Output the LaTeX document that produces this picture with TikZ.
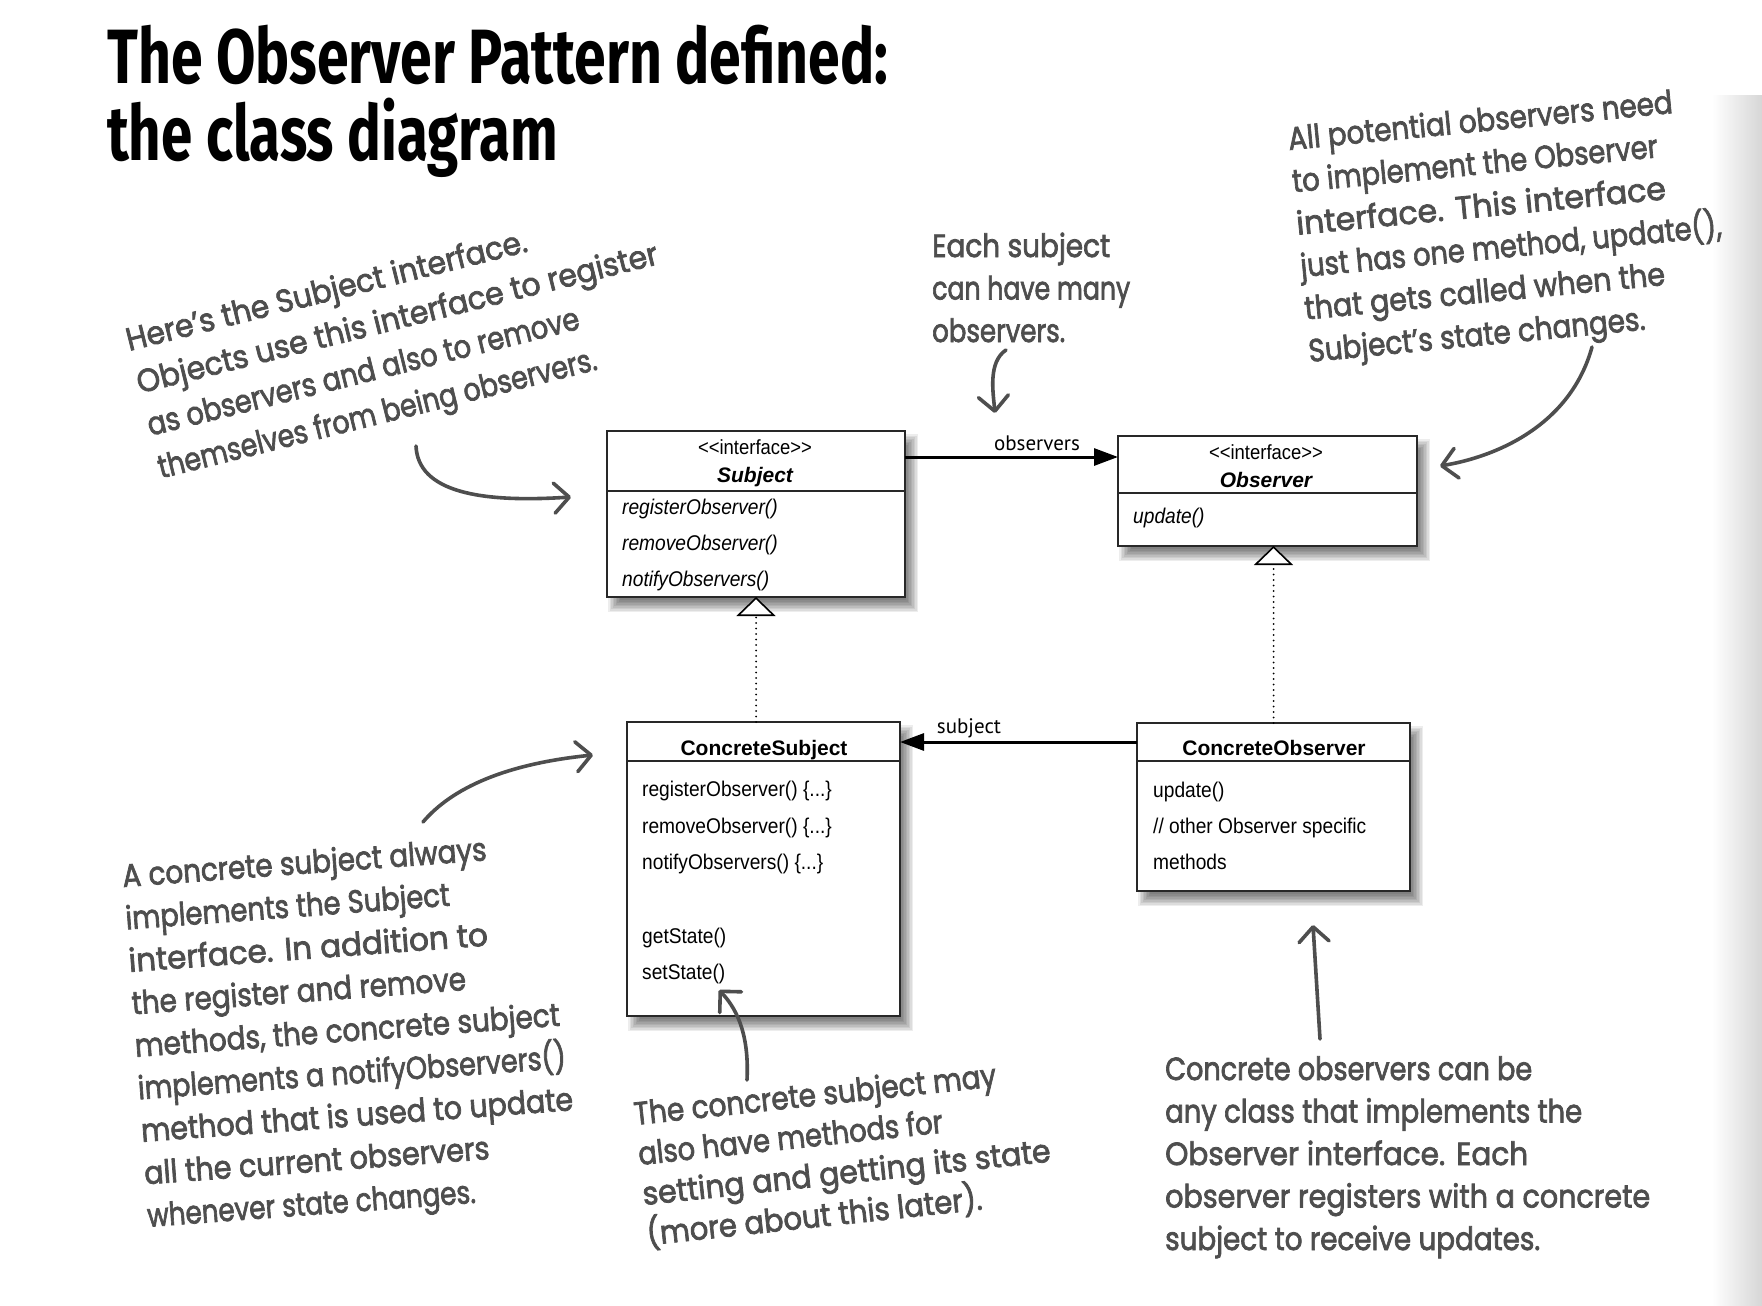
\documentclass[tikz,border=0pt]{standalone}
\usepackage{fontspec}
\setmainfont{Liberation Sans}
\newfontfamily\narrowsans{Liberation Sans}[FakeStretch=0.9]
\newfontfamily\handfont{Poppins}[FakeBold=2.4]
\newfontfamily\titlefont{Fira Sans}
\newfontfamily\labelfont{PT Sans}
\usetikzlibrary{arrows.meta,backgrounds,calc}
\definecolor{handgray}{RGB}{78,78,78}
\definecolor{boxline}{RGB}{40,40,40}
\newcommand\hw[2]{\resizebox{#1pt}{\height}{#2}}
\newcommand\hwl[2]{\hbox{\resizebox{#1pt}{\height}{#2}}}
\newcommand\handblock[2]{\vtop{\baselineskip=#1pt\lineskiplimit=-200pt\lineskip=0pt #2}}
\begin{document}
\begin{tikzpicture}[x=1pt,y=-1pt,
  classbox/.style={draw=boxline, line width=1.4pt, fill=white, inner sep=0pt, outer sep=0pt, anchor=north west},
  divider/.style={draw=boxline, line width=1.4pt},
  stereo/.style={font=\narrowsans\fontsize{20.5}{22}\selectfont, anchor=base, inner sep=0pt},
  cname/.style={font=\bfseries\fontsize{21}{23}\selectfont, anchor=base, inner sep=0pt},
  iname/.style={font=\bfseries\itshape\fontsize{21}{23}\selectfont, anchor=base, inner sep=0pt},
  imeth/.style={font=\narrowsans\itshape\fontsize{21.3}{23}\selectfont, anchor=base west, inner sep=0pt},
  meth/.style={font=\narrowsans\fontsize{21.3}{23}\selectfont, anchor=base west, inner sep=0pt},
  lbl/.style={font=\labelfont\fontsize{21}{23}\selectfont, anchor=base, inner sep=0pt},
  assoc/.style={draw=black, line width=3pt, -{Triangle[length=24pt,width=17pt]}},
  realize/.style={draw=black, line width=2pt, line cap=round, dash pattern=on 0pt off 5.5pt,
     -{Triangle[length=19pt,width=39pt,fill=white,line width=1.6pt]}},
  hand/.style={font=\handfont\fontsize{32}{40}\selectfont, text=handgray, anchor=base west, inner sep=0pt},
  handarrow/.style={draw=handgray, line width=3.6pt, line cap=round,
     -{Straight Barb[length=15pt,width=30pt,round]}},
  titletext/.style={font=\titlefont\bfseries\fontsize{77}{80}\selectfont, anchor=base west, inner sep=0pt}
]
\useasboundingbox (0,0) rectangle (1762,1306);

% ---------- title ----------
\node[titletext] (t1) at (107,84) {\hw{781}{The Observer Pattern defined:}};
\node[titletext] (t2) at (107,160) {\hw{451}{the class diagram}};

% ---------- class boxes ----------
\node[classbox, minimum width=298pt, minimum height=166pt] (subj) at (607,431) {};
\node[classbox, minimum width=299pt, minimum height=110pt] (obs) at (1118,436) {};
\node[classbox, minimum width=273pt, minimum height=294pt] (csub) at (627,722) {};
\node[classbox, minimum width=273pt, minimum height=168pt] (cobs) at (1137,723) {};

\draw[divider] (subj.west |- 0,491) -- (subj.east |- 0,491);
\draw[divider] (obs.west |- 0,493) -- (obs.east |- 0,493);
\draw[divider] (csub.west |- 0,761) -- (csub.east |- 0,761);
\draw[divider] (cobs.west |- 0,761) -- (cobs.east |- 0,761);

% Subject
\node[stereo] (subjst) at (755,454) {<\kern0pt<interface>\kern0pt>};
\node[iname] (subjnm) at (755,482) {Subject};
\node[imeth] (subjm1) at (622,514) {registerObserver()};
\node[imeth] (subjm2) at (622,550) {removeObserver()};
\node[imeth] (subjm3) at (622,586) {notifyObservers()};

% Observer
\node[stereo] (obsst) at (1266,459) {<\kern0pt<interface>\kern0pt>};
\node[iname] (obsnm) at (1266,487) {Observer};
\node[imeth] (obsm1) at (1133,523) {update()};

% ConcreteSubject
\node[cname] (csubnm) at (764,755) {ConcreteSubject};
\node[meth] (csubm1) at (642,796) {registerObserver() \{...\}};
\node[meth] (csubm2) at (642,833) {removeObserver() \{...\}};
\node[meth] (csubm3) at (642,869) {notifyObservers() \{...\}};
\node[meth] (csubm4) at (642,943) {getState()};
\node[meth] (csubm5) at (642,979) {setState()};

% ConcreteObserver
\node[cname] (cobsnm) at (1274,755) {ConcreteObserver};
\node[meth] (cobsm1) at (1153,797) {update()};
\node[meth] (cobsm2) at (1153,833) {// other Observer specific};
\node[meth] (cobsm3) at (1153,869) {methods};

% ---------- connectors ----------
\draw[assoc] (subj.east |- 0,457) -- (obs.west |- 0,457);
\node[lbl] (lobs) at (1037,450) {observers};
\draw[assoc] (cobs.west |- 0,742) -- (csub.east |- 0,742);
\node[lbl] (lsub) at (969,733) {subject};

\draw[realize] (csub.north -| subj.south) -- (subj.south);
\draw[realize] (cobs.north) -- (cobs.north |- obs.south);

% ---------- annotations ----------
\node[hand, rotate=14] (tlnote) at (129,351) {\handblock{43.8}{%
  \hwl{412}{Here’s the Subject interface.}%
  \hwl{536}{Objects use this interface to register}%
  \hwl{444}{as observers and also to remove}%
  \hwl{451}{themselves from being observers.}}};

\node[hand] (tmnote) at (932,257) {\handblock{42.5}{%
  \hwl{178}{Each subject}%
  \hwl{198}{can have many}%
  \hwl{133}{observers.}}};

\node[hand, rotate=5.5] (trnote) at (1289,150) {\handblock{42.6}{%
  \hwl{386}{All potential observers need}%
  \hwl{367}{to implement the Observer}%
  \hwl{371}{interface.\hspace{12pt}This interface}%
  \hwl{423}{just has one method, update(),}%
  \hwl{362}{that gets called when the}%
  \hwl{338}{Subject’s state changes.}}};

\node[hand, rotate=4.2] (blnote) at (123,887) {\handblock{42.6}{%
  \hwl{365}{A concrete subject always}%
  \hwl{325}{implements the Subject}%
  \hwl{360}{interface.\hspace{12pt}In addition to}%
  \hwl{335}{the register and remove}%
  \hwl{426}{methods, the concrete subject}%
  \hwl{429}{implements a notifyObservers()}%
  \hwl{433}{method that is used to update}%
  \hwl{346}{all the current observers}%
  \hwl{329}{whenever state changes.}}};

\node[hand, rotate=6.1] (bmnote) at (635,1125) {\handblock{40.3}{%
  \hwl{364}{The concrete subject may}%
  \hwl{306}{also have methods for}%
  \hwl{410}{setting and getting its state}%
  \hwl{337}{(more about this later).}}};

\node[hand] (brnote) at (1165,1080) {\handblock{42.5}{%
  \hwl{367}{Concrete observers can be}%
  \hwl{417}{any class that implements the}%
  \hwl{363}{Observer interface.\hspace{12pt}Each}%
  \hwl{485}{observer registers with a concrete}%
  \hwl{375}{subject to receive updates.}}};

% ---------- annotation arrows ----------
\coordinate (a1s) at (416,446);
\coordinate (a1e) at (571,497);
\draw[handarrow] (a1s) .. controls (418,492) and (480,503) .. (a1e);

\coordinate (a2s) at (1006,350);
\coordinate (a2e) at (995,413);
\draw[handarrow] (a2s) .. controls (988,362) and (993,392) .. (a2e);

\coordinate (a3s) at (1592,347);
\coordinate (a3e) at (1440,466);
\draw[handarrow] (a3s) .. controls (1572,420) and (1505,455) .. (a3e);

\coordinate (a4s) at (423,822);
\coordinate (a4e) at (593,755);
\draw[handarrow] (a4s) .. controls (452,788) and (505,764) .. (a4e);

\coordinate (a5s) at (747,1080);
\coordinate (a5e) at (719,990);
\draw[handarrow] (a5s) .. controls (749,1040) and (740,1012) .. (a5e);

\coordinate (a6s) at (1320,1039);
\coordinate (a6e) at (1313,925);
\draw[handarrow] (a6s) -- (a6e);

% ---------- background and shadows ----------
\begin{scope}[on background layer]
  \fill[white] (0,0) rectangle (1762,1306);
  \shade[left color=white, right color=black!16] (1712,95) rectangle (1762,1306);
  \foreach \n in {subj,obs,csub,cobs}{
    \foreach \r in {-6,-4.5,...,6}{
      \fill[black, opacity=0.07] ([shift={({7-(\r)},{9-(\r)})}]\n.north west)
          rectangle ([shift={({7+(\r)},{9+(\r)})}]\n.south east);
    }
  }
\end{scope}
\end{tikzpicture}
\end{document}
